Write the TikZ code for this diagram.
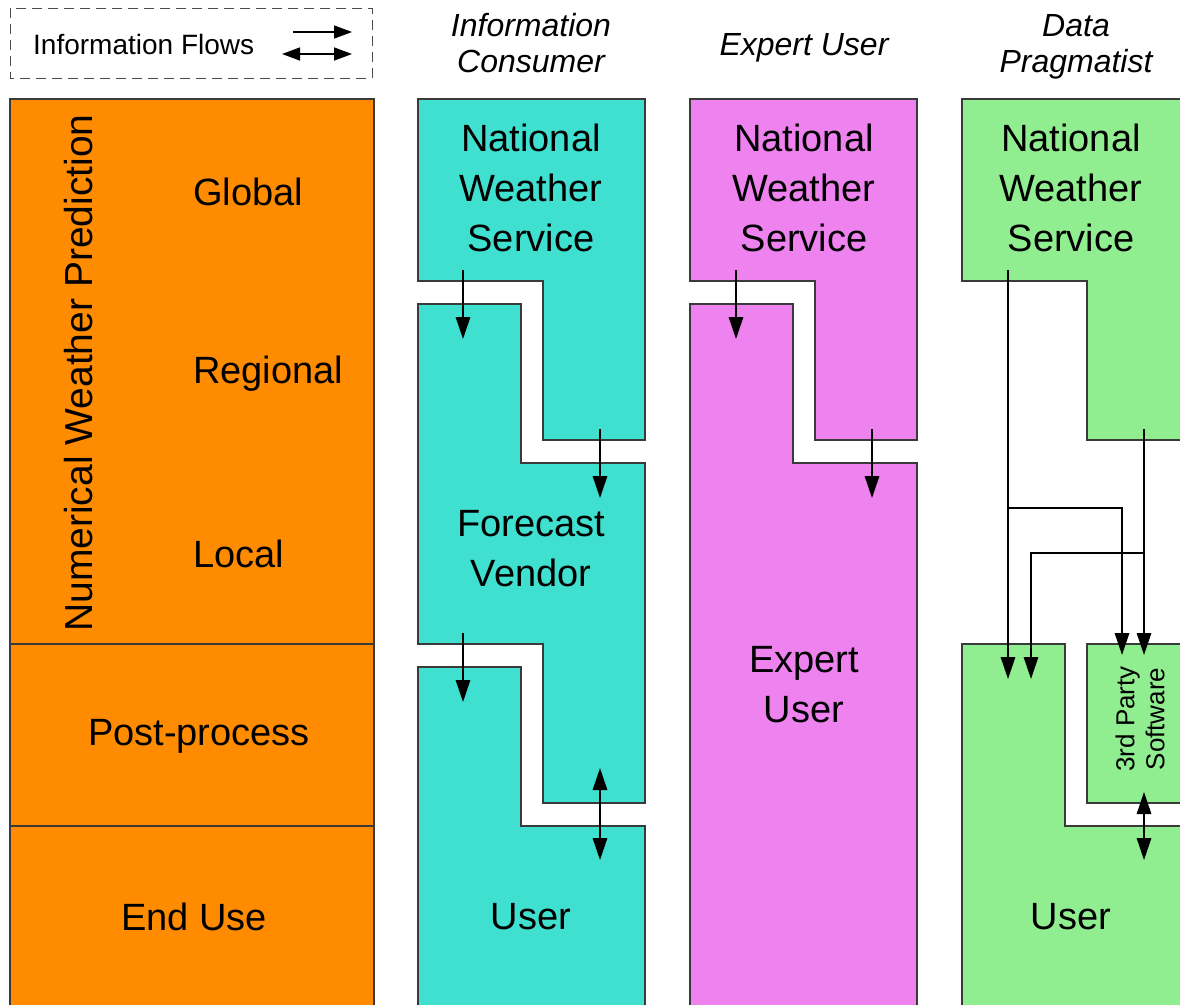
\documentclass[tikz,border=0pt]{standalone}
\usepackage{fontspec}
\setmainfont{Liberation Sans}
\usetikzlibrary{arrows.meta}
\definecolor{nwporange}{HTML}{FF8C00}
\definecolor{turq}{HTML}{40E0D0}
\definecolor{viol}{HTML}{EE82EE}
\definecolor{lgreen}{HTML}{90EE90}
\definecolor{edgegray}{HTML}{3A3A3A}
\begin{document}
\begin{tikzpicture}[x=1pt,y=-1pt,
  box/.style={draw=edgegray,line width=1.4pt,line join=miter},
  tipA/.tip={Triangle[length=22pt,width=14.5pt]},
  flow/.style={draw=black,line width=1.5pt,-tipA},
  flowboth/.style={draw=black,line width=1.5pt,tipA-tipA},
  big/.style={font=\fontsize{38}{50}\selectfont,inner sep=0pt,align=center},
  head/.style={font=\fontsize{32}{36}\selectfont\itshape,inner sep=0pt,align=center},
  small/.style={font=\fontsize{26}{30}\selectfont,inner sep=0pt,align=center}]
\clip (0,0) rectangle (1180,1004);
\fill[white] (0,0) rectangle (1180,1004);

% ---------- legend ----------
\draw[draw=black!70,line width=1pt,dash pattern=on 10pt off 6pt] (10,8) rectangle (372,78);
\node[font=\fontsize{28}{30}\selectfont,inner sep=0pt,anchor=base west] (legtxt) at (33,54) {Information Flows};
\coordinate (la1) at (293,32); \coordinate (la2) at (352,32);
\coordinate (lb1) at (282,54); \coordinate (lb2) at (352,54);
\draw[draw=black,line width=1.5pt,-{Triangle[length=18pt,width=13pt]}] (la1) -- (la2);
\draw[draw=black,line width=1.5pt,{Triangle[length=18pt,width=13pt]}-{Triangle[length=18pt,width=13pt]}] (lb1) -- (lb2);

% ---------- headers ----------
\node[head] (hic) at (531,43) {Information\\Consumer};
\node[head,anchor=base] (heu) at (804,55) {Expert User};
\node[head] (hdp) at (1076,47) {Data\\Pragmatist};

% ---------- orange column ----------
\path[box,fill=nwporange] (10,99) rectangle (374,1012);
\draw[box] (10,644) -- (374,644);
\draw[box] (10,826) -- (374,826);
\node[big,font=\fontsize{39}{50}\selectfont,rotate=90,anchor=base] (nwp) at (92,373) {Numerical Weather Prediction};
\node[big,anchor=base west] (glob) at (193,205) {Global};
\node[big,anchor=base west] (regi) at (193,383) {Regional};
\node[big,anchor=base west] (loca) at (193,567) {Local};
\node[big,anchor=base] (post) at (199,745) {Post-process};
\node[big,anchor=base] (endu) at (194,930) {End Use};

% ---------- information consumer (turquoise) ----------
\path[box,fill=turq] (418,99) -- (645,99) -- (645,440) -- (543,440) -- (543,281) -- (418,281) -- cycle;
\path[box,fill=turq] (418,304) -- (521,304) -- (521,463) -- (645,463) -- (645,803) -- (543,803) -- (543,644) -- (418,644) -- cycle;
\path[box,fill=turq] (418,1012) -- (418,667) -- (521,667) -- (521,826) -- (645,826) -- (645,1012);
\node[big] (ic1) at (531,188) {National\\Weather\\Service};
\node[big] (ic2) at (531,549) {Forecast\\Vendor};
\node[big] (ic3) at (531,917) {User};
\coordinate (c1a) at (463,270); \coordinate (c1b) at (463,339);
\coordinate (c2a) at (600,429); \coordinate (c2b) at (600,498);
\coordinate (c3a) at (463,633); \coordinate (c3b) at (463,702);
\coordinate (c4a) at (600,768); \coordinate (c4b) at (600,860);
\draw[flow] (c1a) -- (c1b);
\draw[flow] (c2a) -- (c2b);
\draw[flow] (c3a) -- (c3b);
\draw[flowboth] (c4a) -- (c4b);

% ---------- expert user (violet) ----------
\path[box,fill=viol] (690,99) -- (917,99) -- (917,440) -- (815,440) -- (815,281) -- (690,281) -- cycle;
\path[box,fill=viol] (690,1012) -- (690,304) -- (793,304) -- (793,463) -- (917,463) -- (917,1012);
\node[big] (eu1) at (804,188) {National\\Weather\\Service};
\node[big] (eu2) at (804,685) {Expert\\User};
\coordinate (e1a) at (736,270); \coordinate (e1b) at (736,339);
\coordinate (e2a) at (872,429); \coordinate (e2b) at (872,498);
\draw[flow] (e1a) -- (e1b);
\draw[flow] (e2a) -- (e2b);

% ---------- data pragmatist (green) ----------
\path[box,fill=lgreen] (1195,99) -- (962,99) -- (962,281) -- (1087,281) -- (1087,440) -- (1195,440);
\path[box,fill=lgreen] (962,1012) -- (962,644) -- (1065,644) -- (1065,826) -- (1195,826) -- (1195,1012);
\path[box,fill=lgreen] (1195,644) -- (1087,644) -- (1087,803) -- (1195,803);
\node[big] (dp1) at (1071,188) {National\\Weather\\Service};
\node[big] (dp2) at (1071,917) {User};
\node[small,rotate=90] (dp3) at (1140,719) {3rd Party\\Software};
\coordinate (g1a) at (1008,270); \coordinate (g1b) at (1008,679);
\coordinate (g1j) at (1008,508); \coordinate (g1k) at (1122,508); \coordinate (g1c) at (1122,655);
\coordinate (g2a) at (1144,429); \coordinate (g2b) at (1144,655);
\coordinate (g2j) at (1144,553); \coordinate (g2k) at (1031,553); \coordinate (g2c) at (1031,679);
\coordinate (g3a) at (1144,792); \coordinate (g3b) at (1144,860);
\draw[flow] (g1a) -- (g1b);
\draw[flow] (g1j) -- (g1k) -- (g1c);
\draw[flow] (g2a) -- (g2b);
\draw[flow] (g2j) -- (g2k) -- (g2c);
\draw[flowboth] (g3a) -- (g3b);
\end{tikzpicture}
\end{document}
